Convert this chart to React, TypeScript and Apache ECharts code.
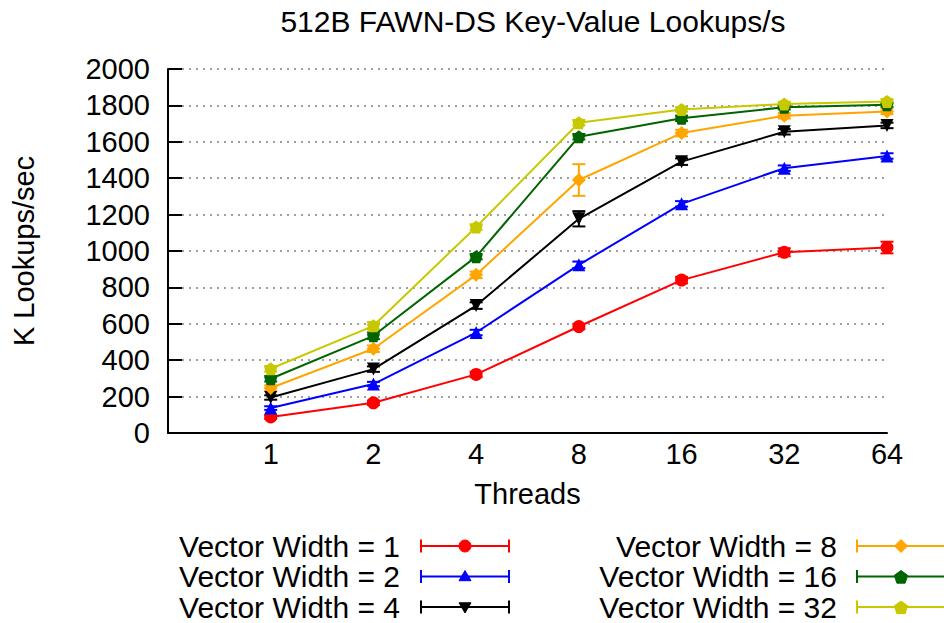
import React, { useEffect, useRef } from "react";
import * as echarts from "echarts";

const threads = [1, 2, 4, 8, 16, 32, 64];
const seriesNames = [
  "Vector Width = 1",
  "Vector Width = 2",
  "Vector Width = 4",
  "Vector Width = 8",
  "Vector Width = 16",
  "Vector Width = 32",
];
const vw1 = [88, 166, 322, 585, 840, 993, 1019];
const vw2 = [137, 269, 552, 924, 1259, 1455, 1522];
const vw4 = [195, 351, 700, 1177, 1491, 1655, 1690];
const vw8 = [247, 463, 869, 1390, 1648, 1743, 1767];
const vw16 = [298, 534, 969, 1628, 1729, 1790, 1804];
const vw32 = [353, 589, 1132, 1705, 1778, 1808, 1822];

const err1 = [10, 12, 15, 15, 18, 22, 32];
const err2 = [10, 12, 15, 18, 15, 15, 15];
const err4 = [12, 15, 18, 42, 18, 15, 15];
const err8 = [15, 18, 18, 87, 18, 15, 15];
const err16 = [15, 18, 15, 15, 15, 12, 12];
const err32 = [15, 20, 15, 15, 12, 12, 12];

const yTicks = [0, 200, 400, 600, 800, 1000, 1200, 1400, 1600, 1800, 2000];

const colors = ["#ff0000", "#0000ff", "#000000", "#ffa500", "#006400", "#c8c800"];
const FONT = "'Liberation Sans', Arial, Helvetica, sans-serif";

const PENT = "path://M50,0 L97.55,34.55 L79.39,90.45 L20.61,90.45 L2.45,34.55 Z";
const symbols = ["circle", "triangle", "triangle", "diamond", PENT, PENT];
const rotations = [0, 0, 180, 0, 0, 0];

const allValues = [vw1, vw2, vw4, vw8, vw16, vw32];
const allErrs = [err1, err2, err4, err8, err16, err32];

function legendMarker(i: number, cx: number, cy: number, color: string) {
  const s = 6;
  const style = { fill: color, stroke: color, lineWidth: 1 };
  if (i === 0) return { type: "circle", shape: { cx, cy, r: 6 }, style };
  if (i === 1)
    return {
      type: "polygon",
      shape: { points: [[cx, cy - s], [cx + s, cy + s * 0.7], [cx - s, cy + s * 0.7]] },
      style,
    };
  if (i === 2)
    return {
      type: "polygon",
      shape: { points: [[cx, cy + s], [cx + s, cy - s * 0.7], [cx - s, cy - s * 0.7]] },
      style,
    };
  if (i === 3)
    return {
      type: "polygon",
      shape: { points: [[cx, cy - 6.5], [cx + 6.5, cy], [cx, cy + 6.5], [cx - 6.5, cy]] },
      style,
    };
  const pts: number[][] = [];
  for (let k = 0; k < 5; k++) {
    const a = -Math.PI / 2 + (k * 2 * Math.PI) / 5;
    pts.push([cx + 7 * Math.cos(a), cy + 1 + 7 * Math.sin(a)]);
  }
  return { type: "polygon", shape: { points: pts }, style };
}

export default function App() {
  const ref = useRef<HTMLDivElement>(null);
  useEffect(() => {
    if (!ref.current) return;
    const chart = echarts.init(ref.current, null, { renderer: "svg" });

    const lineSeries = allValues.map((vals, i) => ({
      name: seriesNames[i],
      type: "line",
      data: threads.map((t, j) => [Math.log2(t), vals[j]]),
      symbol: symbols[i],
      symbolSize: i === 3 ? 14 : 13,
      symbolRotate: rotations[i],
      showSymbol: true,
      lineStyle: { color: colors[i], width: 2 },
      itemStyle: { color: colors[i] },
      emphasis: { disabled: true },
      silent: true,
      z: 3,
    }));

    const errSeries = allValues.map((vals, i) => ({
      name: seriesNames[i] + " err",
      type: "custom",
      data: threads.map((t, j) => [Math.log2(t), vals[j] - allErrs[i][j], vals[j] + allErrs[i][j]]),
      encode: { x: 0, y: [1, 2] },
      silent: true,
      z: 2,
      renderItem: (params: any, api: any) => {
        const x = api.value(0);
        const lo = api.coord([x, api.value(1)]);
        const hi = api.coord([x, api.value(2)]);
        const w = 6.5;
        const st = { stroke: colors[i], lineWidth: 2 };
        return {
          type: "group",
          children: [
            { type: "line", shape: { x1: lo[0], y1: lo[1], x2: hi[0], y2: hi[1] }, style: st },
            { type: "line", shape: { x1: lo[0] - w, y1: lo[1], x2: lo[0] + w, y2: lo[1] }, style: st },
            { type: "line", shape: { x1: hi[0] - w, y1: hi[1], x2: hi[0] + w, y2: hi[1] }, style: st },
          ],
        };
      },
    }));

    const legendGraphics: any[] = [];
    const rowsY = [546, 576.5, 607];
    seriesNames.forEach((name, i) => {
      const col = i < 3 ? 0 : 1;
      const row = i % 3;
      const textRight = col === 0 ? 400 : 837;
      const x0 = col === 0 ? 421 : 857;
      const x1 = x0 + 88;
      const y = rowsY[row];
      const c = colors[i];
      legendGraphics.push({
        type: "text",
        x: textRight,
        y,
        style: {
          text: name,
          align: "right",
          verticalAlign: "middle",
          fontSize: 30,
          fontFamily: FONT,
          fill: "#000",
        },
      });
      legendGraphics.push({
        type: "line",
        shape: { x1: x0, y1: y, x2: x1, y2: y },
        style: { stroke: c, lineWidth: 2 },
      });
      legendGraphics.push({
        type: "line",
        shape: { x1: x0, y1: y - 6.5, x2: x0, y2: y + 6.5 },
        style: { stroke: c, lineWidth: 2 },
      });
      legendGraphics.push({
        type: "line",
        shape: { x1: x1, y1: y - 6.5, x2: x1, y2: y + 6.5 },
        style: { stroke: c, lineWidth: 2 },
      });
      legendGraphics.push(legendMarker(i, x0 + 44, y, c));
    });

    chart.setOption({
      animation: false,
      backgroundColor: "#ffffff",
      textStyle: { fontFamily: FONT },
      title: {
        text: "512B FAWN-DS Key-Value Lookups/s",
        left: 528,
        top: 1,
        textAlign: "center",
        textStyle: { fontSize: 30, fontWeight: "normal", color: "#000", fontFamily: FONT },
      },
      grid: { left: 168, right: 57, top: 69, bottom: 190, containLabel: false },
      xAxis: {
        type: "value",
        min: -1,
        max: 6,
        interval: 1,
        name: "Threads",
        nameLocation: "middle",
        nameGap: 46,
        nameTextStyle: { fontSize: 29, color: "#000", fontFamily: FONT },
        axisLine: { show: true, onZero: false, lineStyle: { color: "#000", width: 2 } },
        axisTick: { show: false },
        splitLine: { show: false },
        axisLabel: {
          fontSize: 29,
          color: "#000",
          margin: 6,
          fontFamily: FONT,
          formatter: (v: number) => {
            const r = Math.round(v);
            if (r < 0) return "";
            const t = Math.pow(2, r);
            return threads.indexOf(t) >= 0 ? String(t) : "";
          },
        },
      },
      yAxis: {
        type: "value",
        min: yTicks[0],
        max: yTicks[yTicks.length - 1],
        interval: 200,
        name: "K Lookups/sec",
        nameLocation: "middle",
        nameGap: 130,
        nameRotate: 90,
        nameTextStyle: { fontSize: 29, color: "#000", fontFamily: FONT },
        axisLine: { show: true, onZero: false, lineStyle: { color: "#000", width: 2 } },
        axisTick: { show: true, inside: true, length: 14, lineStyle: { color: "#000", width: 2 } },
        axisLabel: {
          fontSize: 29,
          color: "#000",
          margin: 18,
          fontFamily: FONT,
          formatter: (v: number) => String(v),
        },
        splitLine: {
          show: true,
          lineStyle: { type: [2, 5], color: "#808080", width: 1.5 },
        },
      },
      series: [...errSeries, ...lineSeries],
      graphic: legendGraphics,
    });
    return () => chart.dispose();
  }, []);
  return <div ref={ref} style={{ width: 944, height: 623, position: "absolute", left: 0, top: 0 }} />;
}
